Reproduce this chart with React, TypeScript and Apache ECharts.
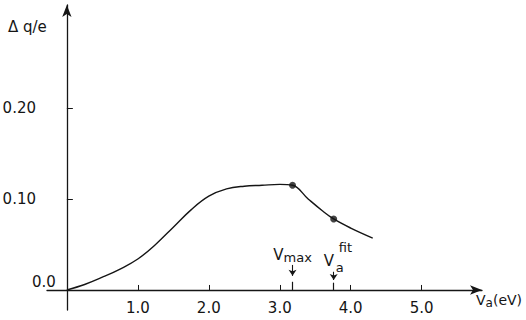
import React, { useEffect, useRef } from "react";
import * as echarts from "echarts";

const curveV = [0, 0.25, 0.5, 0.75, 1.0, 1.25, 1.5, 1.75, 2.0, 2.25, 2.5, 2.75, 3.0, 3.18, 3.4, 3.6, 3.76, 4.0, 4.31];
const curveQ = [0, 0.006, 0.014, 0.023, 0.034, 0.05, 0.069, 0.088, 0.103, 0.111, 0.114, 0.115, 0.116, 0.115, 0.1, 0.087, 0.078, 0.068, 0.057];
const markerV = [3.18, 3.76];
const markerQ = [0.115, 0.078];
const xTickValues = [1, 2, 3, 4, 5];
const xTickLabels = ["1.0", "2.0", "3.0", "4.0", "5.0"];
const yTickValues = [0.1, 0.2];
const yTickLabels = ["0.10", "0.20"];

const FONT = "DejaVu Sans";
const INK = "#151515";

export default function App() {
  const ref = useRef<HTMLDivElement>(null);
  useEffect(() => {
    if (!ref.current) return;
    const chart = echarts.init(ref.current, undefined, { renderer: "svg" });
    const arrowLine = (v: number, a: number, b: number) => [
      { coord: [v, a], symbol: "none" },
      { coord: [v, b], symbol: "arrow" },
    ];
    const tickLine = (v: number, a: number) => [
      { coord: [v, a], symbol: "none" },
      { coord: [v, 0], symbol: "none" },
    ];
    chart.setOption({
      animation: false,
      backgroundColor: "#fff",
      grid: { left: 47, right: 44, top: 5, bottom: 10, containLabel: false, outerBoundsMode: "none" },
      xAxis: {
        type: "value",
        min: -0.28,
        max: 5.85,
        splitLine: { show: false },
        axisLine: { onZero: true, lineStyle: { color: INK, width: 1.3 }, symbol: ["none", "arrow"], symbolSize: [7, 12] },
        axisTick: { show: true, inside: true, length: 5, customValues: xTickValues, lineStyle: { color: INK } },
        axisLabel: { show: false },
      },
      yAxis: {
        type: "value",
        min: -0.022,
        max: 0.313,
        splitLine: { show: false },
        axisLine: { onZero: true, lineStyle: { color: INK, width: 1.3 }, symbol: ["none", "arrow"], symbolSize: [7, 12] },
        axisTick: { show: true, inside: true, length: 6, customValues: yTickValues, lineStyle: { color: INK } },
        axisLabel: {
          customValues: yTickValues,
          formatter: (v: number) => yTickLabels[yTickValues.findIndex((t) => Math.abs(t - v) < 1e-6)] ?? "",
          color: INK,
          fontFamily: FONT,
          fontSize: 15,
          margin: 11,
        },
      },
      series: [
        {
          type: "line",
          data: curveV.map((v, i) => [v, curveQ[i]]),
          smooth: 0.4,
          showSymbol: false,
          lineStyle: { color: INK, width: 1.4 },
          markLine: {
            silent: true,
            symbolSize: 6,
            label: { show: false },
            lineStyle: { color: INK, width: 1.1, type: "solid" },
            data: [arrowLine(3.18, 0.0275, 0.0155), arrowLine(3.76, 0.02, 0.011)],
          },
        },
        {
          type: "scatter",
          data: markerV.map((v, i) => [v, markerQ[i]]),
          symbolSize: 7,
          itemStyle: { color: INK },
          markLine: {
            silent: true,
            symbol: "none",
            label: { show: false },
            lineStyle: { color: INK, width: 1.2, type: "solid" },
            data: [tickLine(3.18, 0.009), tickLine(3.76, 0.008)],
          },
        },
      ],
    });
    const p = (v: number, q: number) => chart.convertToPixel({ gridIndex: 0 }, [v, q]) as number[];
    const zero = p(0, 0);
    const vmax = p(3.18, 0.038);
    const vfit = p(3.76, 0.032);
    const txt = (x: number, y: number, text: string, size: number, align = "left", vAlign = "middle") => ({
      type: "text",
      x,
      y,
      style: { text, fill: INK, font: `${size}px "${FONT}"`, textAlign: align, textVerticalAlign: vAlign },
    });
    const xLabels = xTickValues.map((v, i) => {
      const pt = p(v, 0);
      return txt(pt[0], pt[1] + 18, xTickLabels[i], 15, "center");
    });
    chart.setOption({
      graphic: [
        ...xLabels,
        txt(zero[0] - 11, zero[1] - 8, "0.0", 15, "right"),
        txt(8, 27, "Δ q/e", 15),
        {
          type: "text",
          x: vmax[0],
          y: vmax[1],
          style: {
            text: "{v|V}{s|max}",
            rich: { v: { font: `15px "${FONT}"`, fill: INK }, s: { font: `13px "${FONT}"`, fill: INK, padding: [4, 0, 0, 0] } },
            textAlign: "center",
            textVerticalAlign: "middle",
            fill: INK,
          },
        },
        txt(vfit[0] - 10, vfit[1], "V", 15),
        txt(vfit[0] + 2, vfit[1] + 7, "a", 13),
        txt(vfit[0] + 5, vfit[1] - 13, "fit", 13),
        {
          type: "text",
          x: 476,
          y: 300,
          style: {
            text: "{v|V}{s|a}{v|(eV)}",
            rich: { v: { font: `14px "${FONT}"`, fill: INK }, s: { font: `12px "${FONT}"`, fill: INK, padding: [5, 0, 0, 0] } },
            textVerticalAlign: "middle",
            fill: INK,
          },
        },
      ],
    });
    return () => chart.dispose();
  }, []);
  return <div ref={ref} style={{ position: "fixed", left: 0, top: 0, width: 526, height: 320 }} />;
}
